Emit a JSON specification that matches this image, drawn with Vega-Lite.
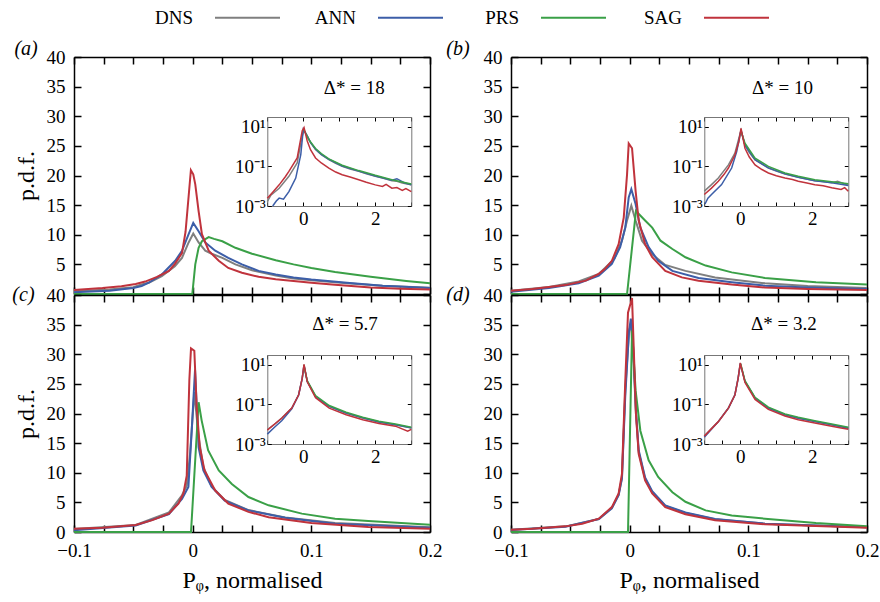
{
"$schema": "https://vega.github.io/schema/vega-lite/v6.json",
"padding": {"left": 12, "top": -16, "right": 0, "bottom": 5},
"datasets": {
"main": [
{"p":"a","m":"DNS","x":-0.1,"y":0.45},{"p":"a","m":"DNS","x":-0.07,"y":0.75},{"p":"a","m":"DNS","x":-0.05,"y":1.15},{"p":"a","m":"DNS","x":-0.043,"y":1.6},{"p":"a","m":"DNS","x":-0.037,"y":1.9},{"p":"a","m":"DNS","x":-0.026,"y":3.0},{"p":"a","m":"DNS","x":-0.015,"y":4.7},{"p":"a","m":"DNS","x":-0.009,"y":6.1},{"p":"a","m":"DNS","x":-0.0034,"y":8.7},{"p":"a","m":"DNS","x":0.0005,"y":10.2},{"p":"a","m":"DNS","x":0.005,"y":8.7},{"p":"a","m":"DNS","x":0.0106,"y":7.3},{"p":"a","m":"DNS","x":0.016,"y":6.8},{"p":"a","m":"DNS","x":0.025,"y":6.1},{"p":"a","m":"DNS","x":0.036,"y":5.0},{"p":"a","m":"DNS","x":0.05,"y":4.0},{"p":"a","m":"DNS","x":0.07,"y":3.1},{"p":"a","m":"DNS","x":0.085,"y":2.6},{"p":"a","m":"DNS","x":0.1,"y":2.3},{"p":"a","m":"DNS","x":0.13,"y":1.8},{"p":"a","m":"DNS","x":0.16,"y":1.4},{"p":"a","m":"DNS","x":0.2,"y":1.05},
{"p":"a","m":"ANN","x":-0.1,"y":0.3},{"p":"a","m":"ANN","x":-0.07,"y":0.55},{"p":"a","m":"ANN","x":-0.05,"y":1.0},{"p":"a","m":"ANN","x":-0.043,"y":1.35},{"p":"a","m":"ANN","x":-0.037,"y":1.9},{"p":"a","m":"ANN","x":-0.026,"y":3.3},{"p":"a","m":"ANN","x":-0.0147,"y":5.6},{"p":"a","m":"ANN","x":-0.009,"y":7.3},{"p":"a","m":"ANN","x":-0.0034,"y":10.1},{"p":"a","m":"ANN","x":0.0005,"y":12.0},{"p":"a","m":"ANN","x":0.005,"y":10.6},{"p":"a","m":"ANN","x":0.0106,"y":8.7},{"p":"a","m":"ANN","x":0.019,"y":7.3},{"p":"a","m":"ANN","x":0.03,"y":6.1},{"p":"a","m":"ANN","x":0.0415,"y":5.0},{"p":"a","m":"ANN","x":0.0556,"y":3.9},{"p":"a","m":"ANN","x":0.07,"y":3.3},{"p":"a","m":"ANN","x":0.085,"y":2.8},{"p":"a","m":"ANN","x":0.1,"y":2.45},{"p":"a","m":"ANN","x":0.13,"y":1.9},{"p":"a","m":"ANN","x":0.16,"y":1.4},{"p":"a","m":"ANN","x":0.2,"y":1.0},
{"p":"a","m":"PRS","x":-0.1,"y":0},{"p":"a","m":"PRS","x":-0.0003,"y":0},{"p":"a","m":"PRS","x":0.0022,"y":5.0},{"p":"a","m":"PRS","x":0.005,"y":7.8},{"p":"a","m":"PRS","x":0.0078,"y":8.9},{"p":"a","m":"PRS","x":0.0135,"y":9.6},{"p":"a","m":"PRS","x":0.018,"y":9.3},{"p":"a","m":"PRS","x":0.025,"y":8.9},{"p":"a","m":"PRS","x":0.036,"y":7.8},{"p":"a","m":"PRS","x":0.05,"y":6.8},{"p":"a","m":"PRS","x":0.07,"y":5.7},{"p":"a","m":"PRS","x":0.085,"y":5.0},{"p":"a","m":"PRS","x":0.1,"y":4.4},{"p":"a","m":"PRS","x":0.12,"y":3.7},{"p":"a","m":"PRS","x":0.15,"y":2.9},{"p":"a","m":"PRS","x":0.18,"y":2.2},{"p":"a","m":"PRS","x":0.2,"y":1.8},
{"p":"a","m":"SAG","x":-0.1,"y":0.67},{"p":"a","m":"SAG","x":-0.076,"y":1.0},{"p":"a","m":"SAG","x":-0.06,"y":1.3},{"p":"a","m":"SAG","x":-0.048,"y":1.7},{"p":"a","m":"SAG","x":-0.04,"y":2.1},{"p":"a","m":"SAG","x":-0.03,"y":2.9},{"p":"a","m":"SAG","x":-0.02,"y":3.9},{"p":"a","m":"SAG","x":-0.015,"y":5.1},{"p":"a","m":"SAG","x":-0.009,"y":6.9},{"p":"a","m":"SAG","x":-0.006,"y":10.5},{"p":"a","m":"SAG","x":-0.0034,"y":16.5},{"p":"a","m":"SAG","x":-0.0015,"y":20.9},{"p":"a","m":"SAG","x":0.0005,"y":20.2},{"p":"a","m":"SAG","x":0.0022,"y":18.5},{"p":"a","m":"SAG","x":0.005,"y":14.0},{"p":"a","m":"SAG","x":0.0078,"y":10.1},{"p":"a","m":"SAG","x":0.0135,"y":7.3},{"p":"a","m":"SAG","x":0.022,"y":5.6},{"p":"a","m":"SAG","x":0.03,"y":4.4},{"p":"a","m":"SAG","x":0.0415,"y":3.6},{"p":"a","m":"SAG","x":0.0556,"y":2.9},{"p":"a","m":"SAG","x":0.07,"y":2.5},{"p":"a","m":"SAG","x":0.085,"y":2.2},{"p":"a","m":"SAG","x":0.1,"y":1.9},{"p":"a","m":"SAG","x":0.12,"y":1.55},{"p":"a","m":"SAG","x":0.15,"y":1.1},{"p":"a","m":"SAG","x":0.175,"y":0.9},{"p":"a","m":"SAG","x":0.2,"y":0.75},
{"p":"b","m":"DNS","x":-0.1,"y":0.56},{"p":"b","m":"DNS","x":-0.068,"y":1.2},{"p":"b","m":"DNS","x":-0.043,"y":2.1},{"p":"b","m":"DNS","x":-0.026,"y":3.4},{"p":"b","m":"DNS","x":-0.013,"y":5.9},{"p":"b","m":"DNS","x":-0.0065,"y":9.0},{"p":"b","m":"DNS","x":-0.0022,"y":12.4},{"p":"b","m":"DNS","x":0.0014,"y":14.9},{"p":"b","m":"DNS","x":0.005,"y":12.4},{"p":"b","m":"DNS","x":0.0104,"y":9.0},{"p":"b","m":"DNS","x":0.019,"y":6.7},{"p":"b","m":"DNS","x":0.03,"y":4.9},{"p":"b","m":"DNS","x":0.047,"y":3.9},{"p":"b","m":"DNS","x":0.072,"y":2.8},{"p":"b","m":"DNS","x":0.114,"y":1.8},{"p":"b","m":"DNS","x":0.15,"y":1.35},{"p":"b","m":"DNS","x":0.2,"y":1.0},
{"p":"b","m":"ANN","x":-0.1,"y":0.4},{"p":"b","m":"ANN","x":-0.068,"y":1.0},{"p":"b","m":"ANN","x":-0.043,"y":1.8},{"p":"b","m":"ANN","x":-0.026,"y":3.1},{"p":"b","m":"ANN","x":-0.015,"y":5.1},{"p":"b","m":"ANN","x":-0.008,"y":7.9},{"p":"b","m":"ANN","x":-0.0037,"y":11.2},{"p":"b","m":"ANN","x":-0.0008,"y":16.3},{"p":"b","m":"ANN","x":0.0014,"y":17.7},{"p":"b","m":"ANN","x":0.005,"y":15.2},{"p":"b","m":"ANN","x":0.009,"y":11.2},{"p":"b","m":"ANN","x":0.016,"y":7.9},{"p":"b","m":"ANN","x":0.024,"y":5.6},{"p":"b","m":"ANN","x":0.036,"y":3.9},{"p":"b","m":"ANN","x":0.058,"y":2.7},{"p":"b","m":"ANN","x":0.086,"y":2.0},{"p":"b","m":"ANN","x":0.114,"y":1.4},{"p":"b","m":"ANN","x":0.15,"y":1.1},{"p":"b","m":"ANN","x":0.2,"y":0.84},
{"p":"b","m":"PRS","x":-0.1,"y":0},{"p":"b","m":"PRS","x":-0.0022,"y":0},{"p":"b","m":"PRS","x":0.0053,"y":14.0},{"p":"b","m":"PRS","x":0.013,"y":12.4},{"p":"b","m":"PRS","x":0.019,"y":11.2},{"p":"b","m":"PRS","x":0.026,"y":9.0},{"p":"b","m":"PRS","x":0.036,"y":7.6},{"p":"b","m":"PRS","x":0.047,"y":6.2},{"p":"b","m":"PRS","x":0.064,"y":4.8},{"p":"b","m":"PRS","x":0.086,"y":3.65},{"p":"b","m":"PRS","x":0.114,"y":2.7},{"p":"b","m":"PRS","x":0.157,"y":2.0},{"p":"b","m":"PRS","x":0.2,"y":1.6},
{"p":"b","m":"SAG","x":-0.1,"y":0.56},{"p":"b","m":"SAG","x":-0.082,"y":0.84},{"p":"b","m":"SAG","x":-0.054,"y":1.5},{"p":"b","m":"SAG","x":-0.037,"y":2.25},{"p":"b","m":"SAG","x":-0.026,"y":3.4},{"p":"b","m":"SAG","x":-0.021,"y":4.2},{"p":"b","m":"SAG","x":-0.015,"y":5.6},{"p":"b","m":"SAG","x":-0.0093,"y":8.4},{"p":"b","m":"SAG","x":-0.005,"y":12.9},{"p":"b","m":"SAG","x":-0.0022,"y":20.2},{"p":"b","m":"SAG","x":-0.0008,"y":25.4},{"p":"b","m":"SAG","x":0.002,"y":24.6},{"p":"b","m":"SAG","x":0.005,"y":17.4},{"p":"b","m":"SAG","x":0.0076,"y":12.4},{"p":"b","m":"SAG","x":0.013,"y":8.4},{"p":"b","m":"SAG","x":0.019,"y":6.2},{"p":"b","m":"SAG","x":0.03,"y":3.9},{"p":"b","m":"SAG","x":0.044,"y":2.8},{"p":"b","m":"SAG","x":0.058,"y":2.25},{"p":"b","m":"SAG","x":0.086,"y":1.6},{"p":"b","m":"SAG","x":0.114,"y":1.1},{"p":"b","m":"SAG","x":0.15,"y":0.85},{"p":"b","m":"SAG","x":0.2,"y":0.67},
{"p":"c","m":"DNS","x":-0.1,"y":0.5},{"p":"c","m":"DNS","x":-0.048,"y":1.2},{"p":"c","m":"DNS","x":-0.02,"y":3.3},{"p":"c","m":"DNS","x":-0.009,"y":6.2},{"p":"c","m":"DNS","x":-0.005,"y":7.8},{"p":"c","m":"DNS","x":-0.0022,"y":13.2},{"p":"c","m":"DNS","x":0.0014,"y":23.6},{"p":"c","m":"DNS","x":0.005,"y":16.0},{"p":"c","m":"DNS","x":0.009,"y":11.0},{"p":"c","m":"DNS","x":0.016,"y":7.7},{"p":"c","m":"DNS","x":0.027,"y":5.4},{"p":"c","m":"DNS","x":0.047,"y":3.7},{"p":"c","m":"DNS","x":0.078,"y":2.45},{"p":"c","m":"DNS","x":0.12,"y":1.5},{"p":"c","m":"DNS","x":0.2,"y":0.8},
{"p":"c","m":"ANN","x":-0.1,"y":0.3},{"p":"c","m":"ANN","x":-0.048,"y":1.1},{"p":"c","m":"ANN","x":-0.02,"y":3.0},{"p":"c","m":"ANN","x":-0.009,"y":5.6},{"p":"c","m":"ANN","x":-0.0036,"y":7.6},{"p":"c","m":"ANN","x":-0.0008,"y":17.1},{"p":"c","m":"ANN","x":0.002,"y":27.4},{"p":"c","m":"ANN","x":0.005,"y":14.3},{"p":"c","m":"ANN","x":0.009,"y":10.4},{"p":"c","m":"ANN","x":0.016,"y":7.6},{"p":"c","m":"ANN","x":0.027,"y":5.3},{"p":"c","m":"ANN","x":0.047,"y":3.65},{"p":"c","m":"ANN","x":0.078,"y":2.4},{"p":"c","m":"ANN","x":0.12,"y":1.4},{"p":"c","m":"ANN","x":0.2,"y":0.73},
{"p":"c","m":"PRS","x":-0.1,"y":0},{"p":"c","m":"PRS","x":-0.0014,"y":0},{"p":"c","m":"PRS","x":0.005,"y":21.9},{"p":"c","m":"PRS","x":0.0076,"y":18.8},{"p":"c","m":"PRS","x":0.013,"y":13.8},{"p":"c","m":"PRS","x":0.022,"y":10.4},{"p":"c","m":"PRS","x":0.033,"y":8.1},{"p":"c","m":"PRS","x":0.047,"y":5.9},{"p":"c","m":"PRS","x":0.064,"y":4.5},{"p":"c","m":"PRS","x":0.092,"y":3.1},{"p":"c","m":"PRS","x":0.12,"y":2.25},{"p":"c","m":"PRS","x":0.148,"y":1.85},{"p":"c","m":"PRS","x":0.2,"y":1.24},
{"p":"c","m":"SAG","x":-0.1,"y":0.56},{"p":"c","m":"SAG","x":-0.076,"y":0.73},{"p":"c","m":"SAG","x":-0.048,"y":1.2},{"p":"c","m":"SAG","x":-0.034,"y":2.0},{"p":"c","m":"SAG","x":-0.02,"y":3.1},{"p":"c","m":"SAG","x":-0.012,"y":4.8},{"p":"c","m":"SAG","x":-0.0078,"y":6.5},{"p":"c","m":"SAG","x":-0.005,"y":9.5},{"p":"c","m":"SAG","x":-0.0028,"y":25.6},{"p":"c","m":"SAG","x":-0.0014,"y":31.0},{"p":"c","m":"SAG","x":0.0014,"y":30.6},{"p":"c","m":"SAG","x":0.0034,"y":21.0},{"p":"c","m":"SAG","x":0.006,"y":14.3},{"p":"c","m":"SAG","x":0.01,"y":10.4},{"p":"c","m":"SAG","x":0.019,"y":7.0},{"p":"c","m":"SAG","x":0.03,"y":4.8},{"p":"c","m":"SAG","x":0.047,"y":3.4},{"p":"c","m":"SAG","x":0.064,"y":2.5},{"p":"c","m":"SAG","x":0.1,"y":1.5},{"p":"c","m":"SAG","x":0.148,"y":0.84},{"p":"c","m":"SAG","x":0.2,"y":0.56},
{"p":"d","m":"DNS","x":-0.1,"y":0.4},{"p":"d","m":"DNS","x":-0.054,"y":0.95},{"p":"d","m":"DNS","x":-0.026,"y":2.2},{"p":"d","m":"DNS","x":-0.015,"y":4.1},{"p":"d","m":"DNS","x":-0.0093,"y":6.3},{"p":"d","m":"DNS","x":-0.0065,"y":9.2},{"p":"d","m":"DNS","x":-0.0037,"y":24.0},{"p":"d","m":"DNS","x":-0.0005,"y":34.0},{"p":"d","m":"DNS","x":0.001,"y":35.0},{"p":"d","m":"DNS","x":0.003,"y":30.0},{"p":"d","m":"DNS","x":0.0053,"y":20.0},{"p":"d","m":"DNS","x":0.0076,"y":13.5},{"p":"d","m":"DNS","x":0.013,"y":9.0},{"p":"d","m":"DNS","x":0.019,"y":6.7},{"p":"d","m":"DNS","x":0.03,"y":4.4},{"p":"d","m":"DNS","x":0.047,"y":3.2},{"p":"d","m":"DNS","x":0.072,"y":2.15},{"p":"d","m":"DNS","x":0.114,"y":1.4},{"p":"d","m":"DNS","x":0.2,"y":0.8},
{"p":"d","m":"ANN","x":-0.1,"y":0.35},{"p":"d","m":"ANN","x":-0.054,"y":0.9},{"p":"d","m":"ANN","x":-0.026,"y":2.2},{"p":"d","m":"ANN","x":-0.015,"y":4.0},{"p":"d","m":"ANN","x":-0.0093,"y":6.2},{"p":"d","m":"ANN","x":-0.0065,"y":9.0},{"p":"d","m":"ANN","x":-0.0037,"y":23.0},{"p":"d","m":"ANN","x":-0.0005,"y":34.0},{"p":"d","m":"ANN","x":0.001,"y":36.0},{"p":"d","m":"ANN","x":0.003,"y":31.0},{"p":"d","m":"ANN","x":0.0053,"y":20.5},{"p":"d","m":"ANN","x":0.0076,"y":13.8},{"p":"d","m":"ANN","x":0.013,"y":9.2},{"p":"d","m":"ANN","x":0.019,"y":6.9},{"p":"d","m":"ANN","x":0.03,"y":4.5},{"p":"d","m":"ANN","x":0.047,"y":3.3},{"p":"d","m":"ANN","x":0.072,"y":2.2},{"p":"d","m":"ANN","x":0.114,"y":1.4},{"p":"d","m":"ANN","x":0.2,"y":0.8},
{"p":"d","m":"PRS","x":-0.1,"y":0},{"p":"d","m":"PRS","x":-0.0014,"y":0},{"p":"d","m":"PRS","x":0.002,"y":34.0},{"p":"d","m":"PRS","x":0.005,"y":23.9},{"p":"d","m":"PRS","x":0.009,"y":17.1},{"p":"d","m":"PRS","x":0.016,"y":12.1},{"p":"d","m":"PRS","x":0.024,"y":9.3},{"p":"d","m":"PRS","x":0.036,"y":6.7},{"p":"d","m":"PRS","x":0.047,"y":5.1},{"p":"d","m":"PRS","x":0.064,"y":3.65},{"p":"d","m":"PRS","x":0.086,"y":2.8},{"p":"d","m":"PRS","x":0.114,"y":2.25},{"p":"d","m":"PRS","x":0.157,"y":1.5},{"p":"d","m":"PRS","x":0.2,"y":0.95},
{"p":"d","m":"SAG","x":-0.1,"y":0.4},{"p":"d","m":"SAG","x":-0.082,"y":0.56},{"p":"d","m":"SAG","x":-0.054,"y":0.95},{"p":"d","m":"SAG","x":-0.04,"y":1.4},{"p":"d","m":"SAG","x":-0.026,"y":2.25},{"p":"d","m":"SAG","x":-0.015,"y":4.2},{"p":"d","m":"SAG","x":-0.0093,"y":6.5},{"p":"d","m":"SAG","x":-0.0065,"y":9.8},{"p":"d","m":"SAG","x":-0.0037,"y":25.5},{"p":"d","m":"SAG","x":-0.0014,"y":37.0},{"p":"d","m":"SAG","x":0.002,"y":39.5},{"p":"d","m":"SAG","x":0.0034,"y":31.2},{"p":"d","m":"SAG","x":0.0053,"y":19.9},{"p":"d","m":"SAG","x":0.0076,"y":13.2},{"p":"d","m":"SAG","x":0.013,"y":8.7},{"p":"d","m":"SAG","x":0.019,"y":6.5},{"p":"d","m":"SAG","x":0.03,"y":4.2},{"p":"d","m":"SAG","x":0.047,"y":3.0},{"p":"d","m":"SAG","x":0.072,"y":2.0},{"p":"d","m":"SAG","x":0.114,"y":1.3},{"p":"d","m":"SAG","x":0.2,"y":0.73}
],
"inset": [
{"p":"a","m":"DNS","x":-1,"y":0.00166},{"p":"a","m":"DNS","x":-0.9,"y":0.0035},{"p":"a","m":"DNS","x":-0.67,"y":0.00794},{"p":"a","m":"DNS","x":-0.4,"y":0.0316},{"p":"a","m":"DNS","x":-0.17,"y":0.151},{"p":"a","m":"DNS","x":-0.03,"y":3.47},{"p":"a","m":"DNS","x":0.02,"y":6.76},{"p":"a","m":"DNS","x":0.11,"y":3.47},{"p":"a","m":"DNS","x":0.2,"y":1.6},{"p":"a","m":"DNS","x":0.34,"y":0.724},{"p":"a","m":"DNS","x":0.5,"y":0.4},{"p":"a","m":"DNS","x":0.71,"y":0.224},{"p":"a","m":"DNS","x":0.9,"y":0.145},{"p":"a","m":"DNS","x":1.08,"y":0.102},{"p":"a","m":"DNS","x":1.3,"y":0.075},{"p":"a","m":"DNS","x":1.54,"y":0.0562},{"p":"a","m":"DNS","x":1.75,"y":0.042},{"p":"a","m":"DNS","x":2.0,"y":0.0316},{"p":"a","m":"DNS","x":2.2,"y":0.026},{"p":"a","m":"DNS","x":2.46,"y":0.0191},{"p":"a","m":"DNS","x":2.6,"y":0.018},{"p":"a","m":"DNS","x":2.75,"y":0.0145},{"p":"a","m":"DNS","x":3.0,"y":0.0117},
{"p":"a","m":"ANN","x":-0.85,"y":0.001},{"p":"a","m":"ANN","x":-0.75,"y":0.0018},{"p":"a","m":"ANN","x":-0.67,"y":0.00251},{"p":"a","m":"ANN","x":-0.55,"y":0.0022},{"p":"a","m":"ANN","x":-0.4,"y":0.00537},{"p":"a","m":"ANN","x":-0.21,"y":0.0257},{"p":"a","m":"ANN","x":-0.07,"y":0.398},{"p":"a","m":"ANN","x":0.0,"y":7.59},{"p":"a","m":"ANN","x":0.11,"y":3.5},{"p":"a","m":"ANN","x":0.2,"y":1.65},{"p":"a","m":"ANN","x":0.34,"y":0.75},{"p":"a","m":"ANN","x":0.5,"y":0.41},{"p":"a","m":"ANN","x":0.71,"y":0.23},{"p":"a","m":"ANN","x":1.08,"y":0.105},{"p":"a","m":"ANN","x":1.54,"y":0.058},{"p":"a","m":"ANN","x":2.0,"y":0.033},{"p":"a","m":"ANN","x":2.46,"y":0.02},{"p":"a","m":"ANN","x":2.6,"y":0.024},{"p":"a","m":"ANN","x":2.8,"y":0.015},{"p":"a","m":"ANN","x":3.0,"y":0.012},
{"p":"a","m":"PRS","x":0.01,"y":7.59},{"p":"a","m":"PRS","x":0.15,"y":2.34},{"p":"a","m":"PRS","x":0.34,"y":0.813},{"p":"a","m":"PRS","x":0.5,"y":0.45},{"p":"a","m":"PRS","x":0.71,"y":0.24},{"p":"a","m":"PRS","x":1.08,"y":0.115},{"p":"a","m":"PRS","x":1.54,"y":0.0617},{"p":"a","m":"PRS","x":2.0,"y":0.0355},{"p":"a","m":"PRS","x":2.46,"y":0.0214},{"p":"a","m":"PRS","x":3.0,"y":0.0129},
{"p":"a","m":"SAG","x":-1,"y":0.00245},{"p":"a","m":"SAG","x":-0.85,"y":0.005},{"p":"a","m":"SAG","x":-0.67,"y":0.0117},{"p":"a","m":"SAG","x":-0.5,"y":0.03},{"p":"a","m":"SAG","x":-0.4,"y":0.0562},{"p":"a","m":"SAG","x":-0.17,"y":0.269},{"p":"a","m":"SAG","x":-0.03,"y":6.31},{"p":"a","m":"SAG","x":0.02,"y":9.33},{"p":"a","m":"SAG","x":0.11,"y":1.95},{"p":"a","m":"SAG","x":0.2,"y":0.7},{"p":"a","m":"SAG","x":0.34,"y":0.269},{"p":"a","m":"SAG","x":0.5,"y":0.15},{"p":"a","m":"SAG","x":0.71,"y":0.0832},{"p":"a","m":"SAG","x":0.9,"y":0.052},{"p":"a","m":"SAG","x":1.08,"y":0.038},{"p":"a","m":"SAG","x":1.3,"y":0.029},{"p":"a","m":"SAG","x":1.54,"y":0.0214},{"p":"a","m":"SAG","x":1.75,"y":0.016},{"p":"a","m":"SAG","x":2.0,"y":0.0117},{"p":"a","m":"SAG","x":2.2,"y":0.0098},{"p":"a","m":"SAG","x":2.3,"y":0.0125},{"p":"a","m":"SAG","x":2.46,"y":0.00794},{"p":"a","m":"SAG","x":2.6,"y":0.0085},{"p":"a","m":"SAG","x":2.75,"y":0.0062},{"p":"a","m":"SAG","x":2.85,"y":0.0075},{"p":"a","m":"SAG","x":3.0,"y":0.00537},
{"p":"b","m":"DNS","x":-1,"y":0.00562},{"p":"b","m":"DNS","x":-0.8,"y":0.012},{"p":"b","m":"DNS","x":-0.61,"y":0.0263},{"p":"b","m":"DNS","x":-0.33,"y":0.12},{"p":"b","m":"DNS","x":-0.15,"y":0.468},{"p":"b","m":"DNS","x":0.02,"y":6.76},{"p":"b","m":"DNS","x":0.13,"y":1.2},{"p":"b","m":"DNS","x":0.25,"y":0.5},{"p":"b","m":"DNS","x":0.41,"y":0.214},{"p":"b","m":"DNS","x":0.78,"y":0.0832},{"p":"b","m":"DNS","x":1.0,"y":0.058},{"p":"b","m":"DNS","x":1.24,"y":0.0417},{"p":"b","m":"DNS","x":1.61,"y":0.0282},{"p":"b","m":"DNS","x":2.07,"y":0.0191},{"p":"b","m":"DNS","x":2.3,"y":0.0175},{"p":"b","m":"DNS","x":2.54,"y":0.0148},{"p":"b","m":"DNS","x":2.7,"y":0.018},{"p":"b","m":"DNS","x":3.0,"y":0.0112},
{"p":"b","m":"ANN","x":-0.98,"y":0.00126},{"p":"b","m":"ANN","x":-0.9,"y":0.0025},{"p":"b","m":"ANN","x":-0.8,"y":0.0038},{"p":"b","m":"ANN","x":-0.52,"y":0.012},{"p":"b","m":"ANN","x":-0.24,"y":0.0832},{"p":"b","m":"ANN","x":-0.1,"y":0.562},{"p":"b","m":"ANN","x":0.02,"y":6.76},{"p":"b","m":"ANN","x":0.13,"y":1.2},{"p":"b","m":"ANN","x":0.41,"y":0.22},{"p":"b","m":"ANN","x":0.78,"y":0.085},{"p":"b","m":"ANN","x":1.24,"y":0.042},{"p":"b","m":"ANN","x":1.61,"y":0.028},{"p":"b","m":"ANN","x":2.07,"y":0.019},{"p":"b","m":"ANN","x":2.54,"y":0.015},{"p":"b","m":"ANN","x":3.0,"y":0.011},
{"p":"b","m":"PRS","x":0.01,"y":6.76},{"p":"b","m":"PRS","x":0.13,"y":1.48},{"p":"b","m":"PRS","x":0.41,"y":0.263},{"p":"b","m":"PRS","x":0.78,"y":0.1},{"p":"b","m":"PRS","x":1.24,"y":0.0468},{"p":"b","m":"PRS","x":1.61,"y":0.0316},{"p":"b","m":"PRS","x":2.07,"y":0.0214},{"p":"b","m":"PRS","x":2.54,"y":0.0166},{"p":"b","m":"PRS","x":3.0,"y":0.0132},
{"p":"b","m":"SAG","x":-1,"y":0.0038},{"p":"b","m":"SAG","x":-0.8,"y":0.008},{"p":"b","m":"SAG","x":-0.61,"y":0.0178},{"p":"b","m":"SAG","x":-0.45,"y":0.04},{"p":"b","m":"SAG","x":-0.33,"y":0.0832},{"p":"b","m":"SAG","x":-0.15,"y":0.38},{"p":"b","m":"SAG","x":-0.04,"y":1.78},{"p":"b","m":"SAG","x":0.02,"y":8.32},{"p":"b","m":"SAG","x":0.13,"y":0.832},{"p":"b","m":"SAG","x":0.25,"y":0.3},{"p":"b","m":"SAG","x":0.41,"y":0.12},{"p":"b","m":"SAG","x":0.6,"y":0.07},{"p":"b","m":"SAG","x":0.78,"y":0.0468},{"p":"b","m":"SAG","x":1.0,"y":0.034},{"p":"b","m":"SAG","x":1.24,"y":0.0263},{"p":"b","m":"SAG","x":1.45,"y":0.022},{"p":"b","m":"SAG","x":1.61,"y":0.0178},{"p":"b","m":"SAG","x":1.85,"y":0.0145},{"p":"b","m":"SAG","x":2.07,"y":0.012},{"p":"b","m":"SAG","x":2.3,"y":0.0105},{"p":"b","m":"SAG","x":2.54,"y":0.00832},{"p":"b","m":"SAG","x":2.8,"y":0.0068},{"p":"b","m":"SAG","x":2.9,"y":0.0085},{"p":"b","m":"SAG","x":3.0,"y":0.00562},
{"p":"c","m":"DNS","x":-1,"y":0.00525},{"p":"c","m":"DNS","x":-0.8,"y":0.01},{"p":"c","m":"DNS","x":-0.6,"y":0.0204},{"p":"c","m":"DNS","x":-0.32,"y":0.0661},{"p":"c","m":"DNS","x":-0.13,"y":0.309},{"p":"c","m":"DNS","x":-0.03,"y":2.14},{"p":"c","m":"DNS","x":0.02,"y":10},{"p":"c","m":"DNS","x":0.11,"y":1.45},{"p":"c","m":"DNS","x":0.34,"y":0.251},{"p":"c","m":"DNS","x":0.72,"y":0.0794},{"p":"c","m":"DNS","x":1.19,"y":0.0363},{"p":"c","m":"DNS","x":1.65,"y":0.0204},{"p":"c","m":"DNS","x":2.1,"y":0.0129},{"p":"c","m":"DNS","x":2.56,"y":0.00933},{"p":"c","m":"DNS","x":3.0,"y":0.00646},
{"p":"c","m":"ANN","x":-1,"y":0.00316},{"p":"c","m":"ANN","x":-0.8,"y":0.007},{"p":"c","m":"ANN","x":-0.6,"y":0.015},{"p":"c","m":"ANN","x":-0.32,"y":0.06},{"p":"c","m":"ANN","x":-0.13,"y":0.3},{"p":"c","m":"ANN","x":-0.03,"y":2.1},{"p":"c","m":"ANN","x":0.02,"y":9.5},{"p":"c","m":"ANN","x":0.11,"y":1.45},{"p":"c","m":"ANN","x":0.34,"y":0.25},{"p":"c","m":"ANN","x":0.72,"y":0.08},{"p":"c","m":"ANN","x":1.19,"y":0.037},{"p":"c","m":"ANN","x":1.65,"y":0.021},{"p":"c","m":"ANN","x":2.1,"y":0.013},{"p":"c","m":"ANN","x":2.56,"y":0.0095},{"p":"c","m":"ANN","x":3.0,"y":0.0066},
{"p":"c","m":"PRS","x":0.01,"y":10},{"p":"c","m":"PRS","x":0.11,"y":1.6},{"p":"c","m":"PRS","x":0.34,"y":0.28},{"p":"c","m":"PRS","x":0.72,"y":0.088},{"p":"c","m":"PRS","x":1.19,"y":0.04},{"p":"c","m":"PRS","x":1.65,"y":0.0225},{"p":"c","m":"PRS","x":2.1,"y":0.014},{"p":"c","m":"PRS","x":2.56,"y":0.0102},{"p":"c","m":"PRS","x":3.0,"y":0.007},
{"p":"c","m":"SAG","x":-1,"y":0.005},{"p":"c","m":"SAG","x":-0.6,"y":0.02},{"p":"c","m":"SAG","x":-0.32,"y":0.065},{"p":"c","m":"SAG","x":-0.13,"y":0.3},{"p":"c","m":"SAG","x":-0.03,"y":2.1},{"p":"c","m":"SAG","x":0.02,"y":10.5},{"p":"c","m":"SAG","x":0.11,"y":1.4},{"p":"c","m":"SAG","x":0.34,"y":0.22},{"p":"c","m":"SAG","x":0.72,"y":0.065},{"p":"c","m":"SAG","x":1.19,"y":0.03},{"p":"c","m":"SAG","x":1.65,"y":0.017},{"p":"c","m":"SAG","x":2.1,"y":0.011},{"p":"c","m":"SAG","x":2.56,"y":0.008},{"p":"c","m":"SAG","x":2.9,"y":0.0045},{"p":"c","m":"SAG","x":3.0,"y":0.0055},
{"p":"d","m":"DNS","x":-1,"y":0.00251},{"p":"d","m":"DNS","x":-0.8,"y":0.006},{"p":"d","m":"DNS","x":-0.61,"y":0.0138},{"p":"d","m":"DNS","x":-0.33,"y":0.0661},{"p":"d","m":"DNS","x":-0.15,"y":0.309},{"p":"d","m":"DNS","x":-0.06,"y":2.14},{"p":"d","m":"DNS","x":0.0,"y":12.0},{"p":"d","m":"DNS","x":0.13,"y":1.45},{"p":"d","m":"DNS","x":0.41,"y":0.209},{"p":"d","m":"DNS","x":0.78,"y":0.0661},{"p":"d","m":"DNS","x":1.24,"y":0.0302},{"p":"d","m":"DNS","x":1.61,"y":0.0204},{"p":"d","m":"DNS","x":2.07,"y":0.0138},{"p":"d","m":"DNS","x":2.54,"y":0.00933},{"p":"d","m":"DNS","x":3.0,"y":0.00646},
{"p":"d","m":"ANN","x":-1,"y":0.0022},{"p":"d","m":"ANN","x":-0.61,"y":0.0135},{"p":"d","m":"ANN","x":-0.33,"y":0.065},{"p":"d","m":"ANN","x":-0.15,"y":0.3},{"p":"d","m":"ANN","x":-0.06,"y":2.1},{"p":"d","m":"ANN","x":0.0,"y":11.5},{"p":"d","m":"ANN","x":0.13,"y":1.45},{"p":"d","m":"ANN","x":0.41,"y":0.21},{"p":"d","m":"ANN","x":0.78,"y":0.066},{"p":"d","m":"ANN","x":1.24,"y":0.03},{"p":"d","m":"ANN","x":1.61,"y":0.02},{"p":"d","m":"ANN","x":2.07,"y":0.0138},{"p":"d","m":"ANN","x":2.54,"y":0.0093},{"p":"d","m":"ANN","x":3.0,"y":0.0062},
{"p":"d","m":"PRS","x":0.01,"y":11.5},{"p":"d","m":"PRS","x":0.13,"y":1.6},{"p":"d","m":"PRS","x":0.41,"y":0.23},{"p":"d","m":"PRS","x":0.78,"y":0.073},{"p":"d","m":"PRS","x":1.24,"y":0.033},{"p":"d","m":"PRS","x":1.61,"y":0.0225},{"p":"d","m":"PRS","x":2.07,"y":0.015},{"p":"d","m":"PRS","x":2.54,"y":0.0102},{"p":"d","m":"PRS","x":3.0,"y":0.0071},
{"p":"d","m":"SAG","x":-1,"y":0.0025},{"p":"d","m":"SAG","x":-0.61,"y":0.0135},{"p":"d","m":"SAG","x":-0.33,"y":0.065},{"p":"d","m":"SAG","x":-0.15,"y":0.3},{"p":"d","m":"SAG","x":-0.06,"y":2.1},{"p":"d","m":"SAG","x":0.0,"y":12.5},{"p":"d","m":"SAG","x":0.13,"y":1.3},{"p":"d","m":"SAG","x":0.41,"y":0.18},{"p":"d","m":"SAG","x":0.78,"y":0.056},{"p":"d","m":"SAG","x":1.24,"y":0.026},{"p":"d","m":"SAG","x":1.61,"y":0.017},{"p":"d","m":"SAG","x":2.07,"y":0.0115},{"p":"d","m":"SAG","x":2.54,"y":0.008},{"p":"d","m":"SAG","x":2.8,"y":0.0065},{"p":"d","m":"SAG","x":3.0,"y":0.0055}
]
},
"concat": [
{"width":356,"height":237,"layer":[
{"data":{"name":"main"},"transform":[{"filter":"datum.p=='a'"}],"mark":{"type":"line","strokeWidth":2},
"encoding":{"x":{"field":"x","type":"quantitative","scale":{"domain":[-0.1,0.2],"nice":false,"zero":false},"axis":{"orient":"bottom","values":[-0.1,-0.075,-0.05,-0.025,0,0.025,0.05,0.075,0.1,0.125,0.15,0.175,0.2],"labels":false,"tickSize":-7,"title":null}},
"y":{"field":"y","type":"quantitative","scale":{"domain":[0,40],"nice":false},"axis":{"orient":"left","values":[0,5,10,15,20,25,30,35,40],"labelExpr":"datum.value==0?'':datum.label","tickSize":-7,"labelPadding":16,"title":"p.d.f.","titlePadding":8}},
"color":{"field":"m","type":"nominal","scale":{"domain":["DNS","ANN","PRS","SAG"],"range":["#7f7f7f","#3c5ea8","#3aa047","#c0333c"]},"title":null}}},
{"data":{"values":[{"x":0.1362,"y":34.8,"t":"Δ* = 18"}]},"mark":{"type":"text","fontSize":19,"align":"center","baseline":"middle"},
"encoding":{"x":{"field":"x","type":"quantitative","scale":{"domain":[-0.1,0.2],"nice":false,"zero":false},"axis":{"orient":"top","values":[-0.1,-0.075,-0.05,-0.025,0,0.025,0.05,0.075,0.1,0.125,0.15,0.175,0.2],"labels":false,"tickSize":-7,"title":null}},
"y":{"field":"y","type":"quantitative","scale":{"domain":[0,40],"nice":false},"axis":{"orient":"right","values":[0,5,10,15,20,25,30,35,40],"labels":false,"tickSize":-7,"title":null}},"text":{"field":"t"}}},
{"data":{"values":[{"x":-0.1404,"y":41.4,"t":"(a)"}]},"mark":{"type":"text","fontSize":20,"fontStyle":"italic","align":"center","baseline":"middle"},
"encoding":{"x":{"field":"x","type":"quantitative","scale":{"domain":[-0.1,0.2],"nice":false,"zero":false},"axis":null},"y":{"field":"y","type":"quantitative","scale":{"domain":[0,40],"nice":false},"axis":null},"text":{"field":"t"}}},
{"data":{"values":[{"x":-1,"x2":3,"y":0.001,"y2":31.6}]},"mark":{"type":"rect","opacity":0},
"encoding":{"x":{"field":"x","type":"quantitative","scale":{"domain":[-1,3],"range":[193.3,337.3],"nice":false,"zero":false},"axis":{"orient":"top","offset":-60,"values":[-1,-0.5,0,0.5,1,1.5,2,2.5,3],"labels":false,"tickSize":-4,"tickWidth":1,"domainWidth":1,"domainColor":"#777","title":null}},"x2":{"field":"x2"},
"y":{"field":"y","type":"quantitative","scale":{"type":"log","domain":[0.001,31.6],"range":[149,60],"nice":false},"axis":{"orient":"right","offset":-18.7,"values":[10,0.1,0.001],"labels":false,"tickSize":-4,"tickWidth":1,"domainWidth":1,"domainColor":"#777","title":null}},"y2":{"field":"y2"}}},
{"data":{"name":"inset"},"transform":[{"filter":"datum.p=='a'"}],"mark":{"type":"line","strokeWidth":1.5},
"encoding":{"x":{"field":"x","type":"quantitative","scale":{"domain":[-1,3],"range":[193.3,337.3],"nice":false,"zero":false},"axis":{"orient":"bottom","offset":-88,"values":[-1,-0.5,0,0.5,1,1.5,2,2.5,3],"labelExpr":"datum.value==0?'0':datum.value==2?'2':''","tickSize":-4,"tickWidth":1,"domainWidth":1,"domainColor":"#777","labelPadding":7,"title":null}},
"y":{"field":"y","type":"quantitative","scale":{"type":"log","domain":[0.001,31.6],"range":[149,60],"nice":false},"axis":{"orient":"left","offset":-193.3,"values":[10,0.1,0.001],"labelExpr":"datum.value>5?'10¹':datum.value>0.05?'10⁻¹':'10⁻³'","tickSize":-4,"tickWidth":1,"domainWidth":1,"domainColor":"#777","labelPadding":6,"title":null}},
"color":{"field":"m","type":"nominal","scale":{"domain":["DNS","ANN","PRS","SAG"],"range":["#7f7f7f","#3c5ea8","#3aa047","#c0333c"]},"title":null}}}
],"resolve":{"scale":{"x":"independent","y":"independent"}}},
{"width":356,"height":237,"layer":[
{"data":{"name":"main"},"transform":[{"filter":"datum.p=='b'"}],"mark":{"type":"line","strokeWidth":2},
"encoding":{"x":{"field":"x","type":"quantitative","scale":{"domain":[-0.1,0.2],"nice":false,"zero":false},"axis":{"orient":"bottom","values":[-0.1,-0.075,-0.05,-0.025,0,0.025,0.05,0.075,0.1,0.125,0.15,0.175,0.2],"labels":false,"tickSize":-7,"title":null}},
"y":{"field":"y","type":"quantitative","scale":{"domain":[0,40],"nice":false},"axis":{"orient":"left","values":[0,5,10,15,20,25,30,35,40],"labelExpr":"datum.value==0?'':datum.label","tickSize":-7,"labelPadding":16,"title":null}},
"color":{"field":"m","type":"nominal","scale":{"domain":["DNS","ANN","PRS","SAG"],"range":["#7f7f7f","#3c5ea8","#3aa047","#c0333c"]},"title":null}}},
{"data":{"values":[{"x":0.1288,"y":34.8,"t":"Δ* = 10"}]},"mark":{"type":"text","fontSize":19,"align":"center","baseline":"middle"},
"encoding":{"x":{"field":"x","type":"quantitative","scale":{"domain":[-0.1,0.2],"nice":false,"zero":false},"axis":{"orient":"top","values":[-0.1,-0.075,-0.05,-0.025,0,0.025,0.05,0.075,0.1,0.125,0.15,0.175,0.2],"labels":false,"tickSize":-7,"title":null}},
"y":{"field":"y","type":"quantitative","scale":{"domain":[0,40],"nice":false},"axis":{"orient":"right","values":[0,5,10,15,20,25,30,35,40],"labels":false,"tickSize":-7,"title":null}},"text":{"field":"t"}}},
{"data":{"values":[{"x":-0.1447,"y":41.4,"t":"(b)"}]},"mark":{"type":"text","fontSize":20,"fontStyle":"italic","align":"center","baseline":"middle"},
"encoding":{"x":{"field":"x","type":"quantitative","scale":{"domain":[-0.1,0.2],"nice":false,"zero":false},"axis":null},"y":{"field":"y","type":"quantitative","scale":{"domain":[0,40],"nice":false},"axis":null},"text":{"field":"t"}}},
{"data":{"values":[{"x":-1,"x2":3,"y":0.001,"y2":31.6}]},"mark":{"type":"rect","opacity":0},
"encoding":{"x":{"field":"x","type":"quantitative","scale":{"domain":[-1,3],"range":[193.3,337.3],"nice":false,"zero":false},"axis":{"orient":"top","offset":-60,"values":[-1,-0.5,0,0.5,1,1.5,2,2.5,3],"labels":false,"tickSize":-4,"tickWidth":1,"domainWidth":1,"domainColor":"#777","title":null}},"x2":{"field":"x2"},
"y":{"field":"y","type":"quantitative","scale":{"type":"log","domain":[0.001,31.6],"range":[149,60],"nice":false},"axis":{"orient":"right","offset":-18.7,"values":[10,0.1,0.001],"labels":false,"tickSize":-4,"tickWidth":1,"domainWidth":1,"domainColor":"#777","title":null}},"y2":{"field":"y2"}}},
{"data":{"name":"inset"},"transform":[{"filter":"datum.p=='b'"}],"mark":{"type":"line","strokeWidth":1.5},
"encoding":{"x":{"field":"x","type":"quantitative","scale":{"domain":[-1,3],"range":[193.3,337.3],"nice":false,"zero":false},"axis":{"orient":"bottom","offset":-88,"values":[-1,-0.5,0,0.5,1,1.5,2,2.5,3],"labelExpr":"datum.value==0?'0':datum.value==2?'2':''","tickSize":-4,"tickWidth":1,"domainWidth":1,"domainColor":"#777","labelPadding":7,"title":null}},
"y":{"field":"y","type":"quantitative","scale":{"type":"log","domain":[0.001,31.6],"range":[149,60],"nice":false},"axis":{"orient":"left","offset":-193.3,"values":[10,0.1,0.001],"labelExpr":"datum.value>5?'10¹':datum.value>0.05?'10⁻¹':'10⁻³'","tickSize":-4,"tickWidth":1,"domainWidth":1,"domainColor":"#777","labelPadding":6,"title":null}},
"color":{"field":"m","type":"nominal","scale":{"domain":["DNS","ANN","PRS","SAG"],"range":["#7f7f7f","#3c5ea8","#3aa047","#c0333c"]},"title":null}}}
],"resolve":{"scale":{"x":"independent","y":"independent"}}},
{"width":356,"height":237,"layer":[
{"data":{"name":"main"},"transform":[{"filter":"datum.p=='c'"}],"mark":{"type":"line","strokeWidth":2},
"encoding":{"x":{"field":"x","type":"quantitative","scale":{"domain":[-0.1,0.2],"nice":false,"zero":false},"axis":{"orient":"bottom","values":[-0.1,-0.075,-0.05,-0.025,0,0.025,0.05,0.075,0.1,0.125,0.15,0.175,0.2],"labelExpr":"datum.value==0?'0':(abs(datum.value*10-round(datum.value*10))<0.001?format(datum.value,'.1f'):'')","tickSize":-7,"labelPadding":16,"title":"Pᵩ, normalised","titlePadding":8}},
"y":{"field":"y","type":"quantitative","scale":{"domain":[0,40],"nice":false},"axis":{"orient":"left","values":[0,5,10,15,20,25,30,35,40],"tickSize":-7,"labelPadding":16,"title":"p.d.f.","titlePadding":8}},
"color":{"field":"m","type":"nominal","scale":{"domain":["DNS","ANN","PRS","SAG"],"range":["#7f7f7f","#3c5ea8","#3aa047","#c0333c"]},"title":null}}},
{"data":{"values":[{"x":0.1284,"y":35.1,"t":"Δ* = 5.7"}]},"mark":{"type":"text","fontSize":19,"align":"center","baseline":"middle"},
"encoding":{"x":{"field":"x","type":"quantitative","scale":{"domain":[-0.1,0.2],"nice":false,"zero":false},"axis":{"orient":"top","values":[-0.1,-0.075,-0.05,-0.025,0,0.025,0.05,0.075,0.1,0.125,0.15,0.175,0.2],"labels":false,"tickSize":-7,"title":null}},
"y":{"field":"y","type":"quantitative","scale":{"domain":[0,40],"nice":false},"axis":{"orient":"right","values":[0,5,10,15,20,25,30,35,40],"labels":false,"tickSize":-7,"title":null}},"text":{"field":"t"}}},
{"data":{"values":[{"x":-0.1426,"y":40,"t":"(c)"}]},"mark":{"type":"text","fontSize":20,"fontStyle":"italic","align":"center","baseline":"middle"},
"encoding":{"x":{"field":"x","type":"quantitative","scale":{"domain":[-0.1,0.2],"nice":false,"zero":false},"axis":null},"y":{"field":"y","type":"quantitative","scale":{"domain":[0,40],"nice":false},"axis":null},"text":{"field":"t"}}},
{"data":{"values":[{"x":-1,"x2":3,"y":0.001,"y2":31.6}]},"mark":{"type":"rect","opacity":0},
"encoding":{"x":{"field":"x","type":"quantitative","scale":{"domain":[-1,3],"range":[193.3,337.3],"nice":false,"zero":false},"axis":{"orient":"top","offset":-60,"values":[-1,-0.5,0,0.5,1,1.5,2,2.5,3],"labels":false,"tickSize":-4,"tickWidth":1,"domainWidth":1,"domainColor":"#777","title":null}},"x2":{"field":"x2"},
"y":{"field":"y","type":"quantitative","scale":{"type":"log","domain":[0.001,31.6],"range":[149,60],"nice":false},"axis":{"orient":"right","offset":-18.7,"values":[10,0.1,0.001],"labels":false,"tickSize":-4,"tickWidth":1,"domainWidth":1,"domainColor":"#777","title":null}},"y2":{"field":"y2"}}},
{"data":{"name":"inset"},"transform":[{"filter":"datum.p=='c'"}],"mark":{"type":"line","strokeWidth":1.5},
"encoding":{"x":{"field":"x","type":"quantitative","scale":{"domain":[-1,3],"range":[193.3,337.3],"nice":false,"zero":false},"axis":{"orient":"bottom","offset":-88,"values":[-1,-0.5,0,0.5,1,1.5,2,2.5,3],"labelExpr":"datum.value==0?'0':datum.value==2?'2':''","tickSize":-4,"tickWidth":1,"domainWidth":1,"domainColor":"#777","labelPadding":7,"title":null}},
"y":{"field":"y","type":"quantitative","scale":{"type":"log","domain":[0.001,31.6],"range":[149,60],"nice":false},"axis":{"orient":"left","offset":-193.3,"values":[10,0.1,0.001],"labelExpr":"datum.value>5?'10¹':datum.value>0.05?'10⁻¹':'10⁻³'","tickSize":-4,"tickWidth":1,"domainWidth":1,"domainColor":"#777","labelPadding":6,"title":null}},
"color":{"field":"m","type":"nominal","scale":{"domain":["DNS","ANN","PRS","SAG"],"range":["#7f7f7f","#3c5ea8","#3aa047","#c0333c"]},"title":null}}}
],"resolve":{"scale":{"x":"independent","y":"independent"}}},
{"width":356,"height":237,"layer":[
{"data":{"name":"main"},"transform":[{"filter":"datum.p=='d'"}],"mark":{"type":"line","strokeWidth":2},
"encoding":{"x":{"field":"x","type":"quantitative","scale":{"domain":[-0.1,0.2],"nice":false,"zero":false},"axis":{"orient":"bottom","values":[-0.1,-0.075,-0.05,-0.025,0,0.025,0.05,0.075,0.1,0.125,0.15,0.175,0.2],"labelExpr":"datum.value==0?'0':(abs(datum.value*10-round(datum.value*10))<0.001?format(datum.value,'.1f'):'')","tickSize":-7,"labelPadding":16,"title":"Pᵩ, normalised","titlePadding":8}},
"y":{"field":"y","type":"quantitative","scale":{"domain":[0,40],"nice":false},"axis":{"orient":"left","values":[0,5,10,15,20,25,30,35,40],"tickSize":-7,"labelPadding":16,"title":null}},
"color":{"field":"m","type":"nominal","scale":{"domain":["DNS","ANN","PRS","SAG"],"range":["#7f7f7f","#3c5ea8","#3aa047","#c0333c"]},"title":null}}},
{"data":{"values":[{"x":0.13,"y":35.1,"t":"Δ* = 3.2"}]},"mark":{"type":"text","fontSize":19,"align":"center","baseline":"middle"},
"encoding":{"x":{"field":"x","type":"quantitative","scale":{"domain":[-0.1,0.2],"nice":false,"zero":false},"axis":{"orient":"top","values":[-0.1,-0.075,-0.05,-0.025,0,0.025,0.05,0.075,0.1,0.125,0.15,0.175,0.2],"labels":false,"tickSize":-7,"title":null}},
"y":{"field":"y","type":"quantitative","scale":{"domain":[0,40],"nice":false},"axis":{"orient":"right","values":[0,5,10,15,20,25,30,35,40],"labels":false,"tickSize":-7,"title":null}},"text":{"field":"t"}}},
{"data":{"values":[{"x":-0.1447,"y":40,"t":"(d)"}]},"mark":{"type":"text","fontSize":20,"fontStyle":"italic","align":"center","baseline":"middle"},
"encoding":{"x":{"field":"x","type":"quantitative","scale":{"domain":[-0.1,0.2],"nice":false,"zero":false},"axis":null},"y":{"field":"y","type":"quantitative","scale":{"domain":[0,40],"nice":false},"axis":null},"text":{"field":"t"}}},
{"data":{"values":[{"x":-1,"x2":3,"y":0.001,"y2":31.6}]},"mark":{"type":"rect","opacity":0},
"encoding":{"x":{"field":"x","type":"quantitative","scale":{"domain":[-1,3],"range":[193.3,337.3],"nice":false,"zero":false},"axis":{"orient":"top","offset":-60,"values":[-1,-0.5,0,0.5,1,1.5,2,2.5,3],"labels":false,"tickSize":-4,"tickWidth":1,"domainWidth":1,"domainColor":"#777","title":null}},"x2":{"field":"x2"},
"y":{"field":"y","type":"quantitative","scale":{"type":"log","domain":[0.001,31.6],"range":[149,60],"nice":false},"axis":{"orient":"right","offset":-18.7,"values":[10,0.1,0.001],"labels":false,"tickSize":-4,"tickWidth":1,"domainWidth":1,"domainColor":"#777","title":null}},"y2":{"field":"y2"}}},
{"data":{"name":"inset"},"transform":[{"filter":"datum.p=='d'"}],"mark":{"type":"line","strokeWidth":1.5},
"encoding":{"x":{"field":"x","type":"quantitative","scale":{"domain":[-1,3],"range":[193.3,337.3],"nice":false,"zero":false},"axis":{"orient":"bottom","offset":-88,"values":[-1,-0.5,0,0.5,1,1.5,2,2.5,3],"labelExpr":"datum.value==0?'0':datum.value==2?'2':''","tickSize":-4,"tickWidth":1,"domainWidth":1,"domainColor":"#777","labelPadding":7,"title":null}},
"y":{"field":"y","type":"quantitative","scale":{"type":"log","domain":[0.001,31.6],"range":[149,60],"nice":false},"axis":{"orient":"left","offset":-193.3,"values":[10,0.1,0.001],"labelExpr":"datum.value>5?'10¹':datum.value>0.05?'10⁻¹':'10⁻³'","tickSize":-4,"tickWidth":1,"domainWidth":1,"domainColor":"#777","labelPadding":6,"title":null}},
"color":{"field":"m","type":"nominal","scale":{"domain":["DNS","ANN","PRS","SAG"],"range":["#7f7f7f","#3c5ea8","#3aa047","#c0333c"]},"title":null}}}
],"resolve":{"scale":{"x":"independent","y":"independent"}}}
],
"columns": 2,
"spacing": {"row": 1, "column": 81},
"bounds": "flush",
"config": {
"font": "Liberation Serif",
"view": {"stroke": null},
"axis": {"grid": false, "domainColor": "black", "domainWidth": 1.5, "tickColor": "black", "tickWidth": 1.5, "labelFont": "Liberation Serif", "labelFontSize": 19, "labelColor": "black", "titleFont": "Liberation Serif", "titleFontSize": 24, "titleFontWeight": "normal", "titleColor": "black", "labelFlush": false, "labelOverlap": false, "zindex": 1},
"legend": {"orient": "none", "legendX": 140, "legendY": -73, "direction": "horizontal", "columns": 4, "gridAlign": "all", "symbolType": "stroke", "symbolSize": 4225, "symbolStrokeWidth": 2, "labelAlign": "right", "labelOffset": -88, "columnPadding": 30, "labelFont": "Liberation Serif", "labelFontSize": 19, "labelColor": "black"},
"text": {"font": "Liberation Serif", "color": "black"}
}
}
